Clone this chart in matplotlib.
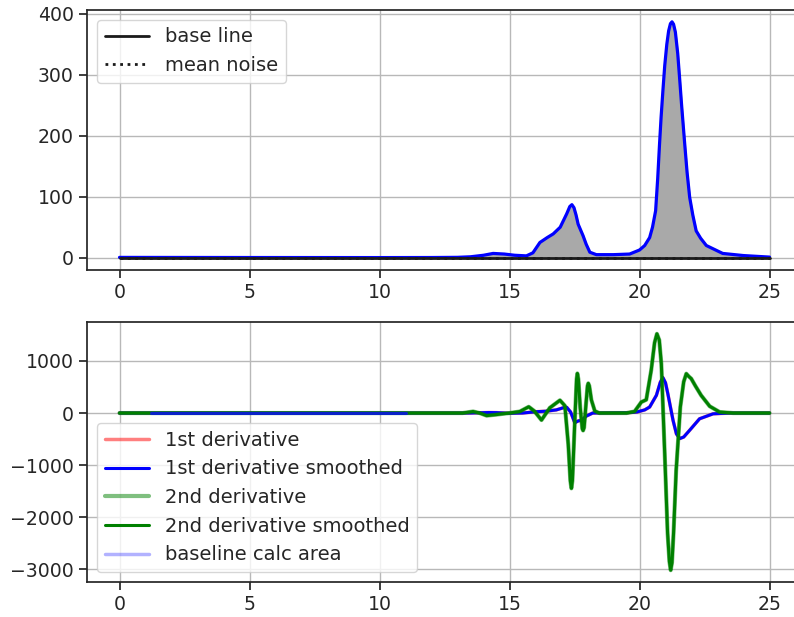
import numpy as np
import matplotlib
matplotlib.use("Agg")
import matplotlib.pyplot as plt
import seaborn as sns
from matplotlib.lines import Line2D

# signal (top panel)
signal_x = [0, 5, 10, 12, 13, 13.5, 14.0, 14.37, 14.8, 15.2, 15.65, 15.9, 16.17, 16.45,
            16.68, 16.95, 17.2, 17.32, 17.4, 17.48, 17.56, 17.64, 17.83, 17.95, 18.09, 18.34, 19.0,
            19.62, 20.0, 20.2, 20.39, 20.5, 20.62, 20.7, 20.77, 20.83, 20.9, 20.97, 21.05,
            21.12, 21.19, 21.25, 21.31, 21.38, 21.47, 21.54, 21.62, 21.74, 21.83, 21.93, 22.05,
            22.18, 22.35, 22.57, 23.2, 24.0, 24.6, 25]
signal_y = [0.5, 0.3, 0.2, 0.3, 0.6, 1.5, 4, 7, 6, 4, 3, 8, 25, 33,
            39, 50, 72, 84, 87, 82, 70, 55, 36, 22, 9, 5, 5,
            6, 12.6, 20, 33, 50, 77, 130, 186, 230, 274, 315, 350,
            372, 384, 387, 383, 370, 335, 296, 250, 186, 140, 99, 70,
            44, 32, 20, 7, 3.5, 2, 1]
baseline_y = [0, 0]
noise_y = [-0.8, -0.8]
x_range = [0, 25]

# 1st derivative (smoothed)
d1_x = [0, 13.5, 14.2, 14.5, 15.0, 15.5, 16.0, 16.4, 16.8, 17.06, 17.2, 17.35, 17.51,
        17.65, 17.77, 17.95, 18.2, 19.5, 19.9, 20.2, 20.39, 20.65, 20.8, 20.9, 21.0, 21.09, 21.29,
        21.42, 21.55, 21.7, 21.93, 22.31, 22.83, 23.5, 25]
d1_y = [0, 0, 10, 8, -5, 0, 25, 35, 60, 100, 110, 20, -185,
        -150, -140, -60, 0, 5, 20, 60, 115, 340, 590, 680, 580, 370, -140,
        -400, -490, -460, -330, -110, -15, 0, 0]

# 2nd derivative (smoothed)
d2_x = [0, 13.2, 13.6, 13.85, 14.12, 14.5, 15.0, 15.4, 15.74, 15.95, 16.23, 16.55,
        16.94, 17.13, 17.26, 17.34, 17.38, 17.42, 17.5, 17.58, 17.61, 17.65, 17.72, 17.8, 17.83,
        17.87, 17.93, 18.0, 18.03, 18.07, 18.15,
        18.28, 18.45, 19.5, 19.81, 20.07, 20.26, 20.45, 20.58, 20.67, 20.76, 20.84, 20.97, 21.08,
        21.15, 21.2, 21.25, 21.31, 21.41, 21.57, 21.7, 21.8, 21.9, 21.99, 22.15, 22.37, 22.7,
        23.08, 23.6, 25]
d2_y = [0, 0, 30, 0, -50, -30, 0, 30, 120, 40, -135, 100,
        245, 140, -600, -1300, -1445, -1300, -300, 650, 760, 650, 100, -300, -335,
        -280, 100, 520, 570, 520, 250,
        40, 0, 0, 30, 210, 255, 820, 1350, 1520, 1400, 945, -780, -2300,
        -2850, -3015, -2870, -2300, -1100, 115, 600, 755, 700, 660, 520, 340, 130,
        20, 0, 0]

base_area_x = [1.2, 11.0]
base_area_y = [0, 0]

sns.set_theme(style="ticks", rc={"axes.grid": True, "grid.color": "#b8b8b8",
                                 "axes.edgecolor": ".15", "xtick.color": ".15",
                                 "ytick.color": ".15"})
plt.rcParams["font.family"] = ["DejaVu Sans"]
plt.rcParams["font.size"] = 14
plt.rcParams["xtick.labelsize"] = 13.6
plt.rcParams["ytick.labelsize"] = 13.6
plt.rcParams["legend.fontsize"] = 14

fig = plt.figure(figsize=(7.94, 6.17), dpi=100)
ax1 = fig.add_axes([87 / 794, 1 - 270 / 617, 715 / 794, 260 / 617])
ax2 = fig.add_axes([87 / 794, 1 - 582 / 617, 715 / 794, 260 / 617])

sx = np.array(signal_x)
sy = np.array(signal_y)
ax1.fill_between(sx, sy, 0, color="darkgrey")
ax1.plot(sx, sy, color="blue", lw=2.3)
ax1.plot(x_range, baseline_y, color="k", lw=2, label="base line")
ax1.plot(x_range, noise_y, color="k", lw=2, ls=":", label="mean noise")
ax1.set_xticks([0, 5, 10, 15, 20, 25])
ax1.legend(loc="upper left", handlelength=2.3)

ax2.plot(d1_x, d1_y, color="red", alpha=0.5, lw=2.5, label="1st derivative")
ax2.plot(d1_x, d1_y, color="blue", lw=2.2, label="1st derivative smoothed")
ax2.plot(d2_x, d2_y, color="green", alpha=0.5, lw=3, label="2nd derivative")
ax2.plot(d2_x, d2_y, color="green", lw=2.2, label="2nd derivative smoothed")
ax2.plot(base_area_x, base_area_y, color="#0a22c8", lw=2.2)
handles, labels = ax2.get_legend_handles_labels()
handles.append(Line2D([], [], color="blue", alpha=0.3, lw=2.5))
labels.append("baseline calc area")
ax2.set_xticks([0, 5, 10, 15, 20, 25])
ax2.set_yticks([-3000, -2000, -1000, 0, 1000])
ax2.legend(handles, labels, loc="lower left", handlelength=2.3)

fig.savefig("out.png", dpi=100)
